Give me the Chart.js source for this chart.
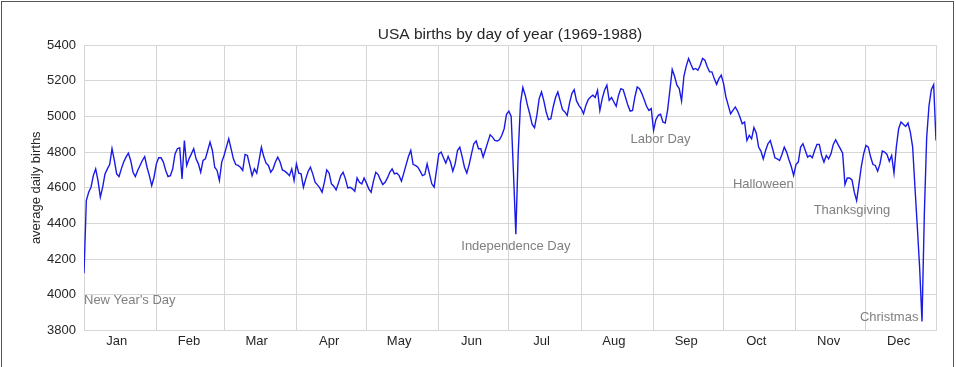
<!DOCTYPE html>
<html><head><meta charset="utf-8">
<script src="https://cdn.jsdelivr.net/npm/chart.js@4"></script>
<style>
html,body{margin:0;padding:0;background:#fff;}
#wrap{position:relative;width:956px;height:367px;overflow:hidden;}
#frame{position:absolute;left:1px;top:1px;width:951px;height:400px;border:1px solid #555;border-bottom:none;pointer-events:none;}
canvas{display:block;}
</style></head><body>
<div id="wrap"><canvas id="c" width="956" height="367"></canvas><div id="frame"></div></div>
<script>
// ---- data ----
const monthLabels = ['Jan','Feb','Mar','Apr','May','Jun','Jul','Aug','Sep','Oct','Nov','Dec'];
const monthStartDays = [0,31,60,91,121,152,182,213,244,274,305,335];
const monthLabelDays = [14,45,74,105,135,166,196,227,258,288,319,349];
const lastDay = 365;
const yTickValues = [3800,4000,4200,4400,4600,4800,5000,5200,5400];

// average daily births, one value per day of the (leap) year, Jan 1 .. Dec 31
const births = [
4120,4528,4575,4603,4668,4706,4640,4547,4603,4678,
4706,4730,4819,4753,4678,4663,4706,4744,4772,4794,
4753,4687,4663,4697,4725,4753,4775,4715,4668,4612,
4659,4734,4768,4768,4744,4697,4663,4668,4706,4790,
4819,4824,4650,4865,4725,4762,4790,4819,4762,4734,
4687,4753,4762,4809,4856,4809,4715,4697,4640,4744,
4781,4828,4875,4819,4762,4730,4725,4715,4697,4787,
4781,4725,4668,4706,4682,4753,4828,4775,4738,4725,
4687,4706,4744,4772,4744,4700,4693,4682,4668,4706,
4640,4734,4682,4678,4603,4650,4691,4715,4678,4631,
4616,4599,4575,4631,4700,4682,4622,4609,4588,4626,
4668,4687,4650,4599,4603,4594,4580,4655,4631,4622,
4655,4626,4594,4575,4637,4687,4674,4644,4618,4631,
4655,4687,4706,4678,4682,4668,4637,4682,4730,4775,
4809,4730,4725,4715,4693,4668,4674,4734,4678,4622,
4603,4697,4790,4800,4768,4738,4775,4744,4693,4734,
4809,4828,4775,4715,4682,4730,4790,4847,4862,4819,
4819,4772,4813,4856,4897,4884,4865,4862,4869,4894,
4931,5012,5030,5000,4680,4340,4790,5075,5162,5119,
5062,5012,4955,4937,5006,5100,5137,5087,5025,4982,
4987,5053,5106,5137,5087,5038,5025,5006,5075,5128,
5150,5087,5062,5044,5015,5062,5094,5109,5119,5106,
5147,5034,5100,5147,5175,5090,5106,5081,5057,5119,
5156,5150,5106,5062,5030,5034,5109,5165,5156,5128,
5094,5057,5034,5044,4922,4982,5006,5012,4969,4963,
5034,5147,5263,5225,5175,5156,5087,5225,5282,5325,
5293,5263,5269,5259,5287,5325,5315,5278,5250,5250,
5212,5180,5212,5231,5184,5109,5062,5015,5034,5053,
5030,4997,4959,4969,4865,4894,4875,4937,4907,4828,
4806,4762,4809,4847,4865,4819,4768,4762,4753,4787,
4828,4800,4757,4719,4669,4730,4744,4828,4847,4809,
4772,4781,4768,4809,4843,4843,4781,4744,4781,4762,
4790,4843,4869,4843,4819,4794,4618,4655,4655,4644,
4575,4528,4622,4719,4790,4837,4828,4772,4730,4725,
4693,4734,4806,4800,4787,4749,4781,4682,4828,4931,
4969,4956,4944,4963,4912,4828,4600,4380,4150,3850,
4450,4880,5060,5150,5178,4865
];

// holiday annotations
const holidayNames  = ["New Year's Day", 'Independence Day', 'Labor Day', 'Halloween', 'Thanksgiving', 'Christmas '];
const holidayDays   = [0, 185, 247, 304, 329, 359];
const holidayValues = [3950, 4250, 4850, 4600, 4450, 3850];
const holidayAlign  = ['left', 'center', 'center', 'right', 'center', 'right'];

// ---- chart ----
const FONT = "'Liberation Sans', Arial, sans-serif";
const TEXT = '#262626';
const GRID = '#d6d6d6';

const annotations = {
  id: 'holidayText',
  afterLayout(chart) {
    // centre the title over the plot area, as the original does
    const tb = chart.titleBlock;
    if (tb) {
      tb.left = chart.chartArea.left;
      tb.right = chart.chartArea.right;
      tb.width = tb.right - tb.left;
    }
  },
  afterDatasetsDraw(chart) {
    const {ctx, scales: {x, y}} = chart;
    ctx.save();
    ctx.font = '13px ' + FONT;
    ctx.fillStyle = '#808080';
    ctx.textBaseline = 'alphabetic';
    holidayNames.forEach((name, i) => {
      ctx.textAlign = holidayAlign[i];
      ctx.fillText(name, x.getPixelForValue(holidayDays[i]), y.getPixelForValue(holidayValues[i]));
    });
    ctx.restore();
  }
};

new Chart(document.getElementById('c'), {
  type: 'line',
  data: {
    datasets: [{
      data: births.map((v, i) => ({x: i, y: v})),
      borderColor: '#1a1ae6',
      borderWidth: 1.4,
      pointRadius: 0,
      tension: 0,
      fill: false
    }]
  },
  options: {
    responsive: false,
    animation: false,
    devicePixelRatio: 1,
    layout: {padding: {left: 0, right: 20, top: 0, bottom: 15}},
    plugins: {
      legend: {display: false},
      tooltip: {enabled: false},
      title: {
        display: true,
        text: 'USA births by day of year (1969-1988)',
        color: TEXT,
        font: {family: FONT, size: 15.5, weight: 'normal'},
        padding: {top: 25.5, bottom: 1}
      }
    },
    scales: {
      x: {
        type: 'linear',
        min: 0,
        max: lastDay,
        afterBuildTicks: (s) => {
          const t = monthStartDays.concat([lastDay]).map(v => ({value: v}))
            .concat(monthLabelDays.map(v => ({value: v})));
          t.sort((a, b) => a.value - b.value);
          s.ticks = t;
        },
        ticks: {
          autoSkip: false,
          maxRotation: 0,
          padding: 3,
          color: TEXT,
          font: {family: FONT, size: 13},
          callback: (v) => {
            const k = monthLabelDays.indexOf(v);
            return k >= 0 ? monthLabels[k] : '';
          }
        },
        grid: {
          drawTicks: false,
          lineWidth: 1,
          color: (c) => (c.tick && monthLabelDays.indexOf(c.tick.value) >= 0) ? 'rgba(0,0,0,0)' : GRID
        },
        border: {color: GRID}
      },
      y: {
        min: yTickValues[0],
        max: yTickValues[yTickValues.length - 1],
        afterBuildTicks: (s) => { s.ticks = yTickValues.map(v => ({value: v})); },
        afterFit: (s) => { s.width = 84; },
        ticks: {
          padding: 8,
          color: TEXT,
          font: {family: FONT, size: 13},
          callback: (v) => String(v)
        },
        grid: {drawTicks: false, color: GRID, lineWidth: 1},
        border: {color: GRID},
        title: {
          display: true,
          text: 'average daily births',
          color: TEXT,
          font: {family: FONT, size: 13},
          padding: {top: 29, bottom: 0}
        }
      }
    }
  },
  plugins: [annotations]
});
</script>
</body></html>
